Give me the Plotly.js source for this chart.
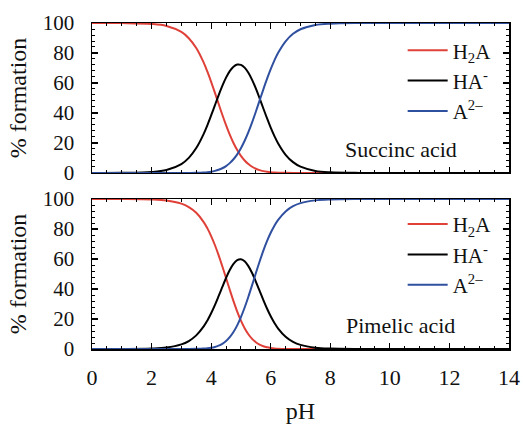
<!DOCTYPE html>
<html>
<head>
<meta charset="utf-8">
<script src="https://cdn.plot.ly/plotly-3.0.1.min.js"></script>
<style>
html,body{margin:0;padding:0;background:#fff;}
#chart{width:523px;height:425px;}
</style>
</head>
<body>
<div id="chart"></div>
<script>
// pH sample points (x values)
const pH = [0,1,2,2.5,3,3.25,3.5,3.75,3.875,4,4.125,4.25,4.375,4.5,4.625,4.75,4.875,5,5.125,5.25,5.375,5.5,5.625,5.75,5.875,6,6.125,6.25,6.5,6.75,7,7.5,8,9,10,12,14];

// Succinic acid, % formation
const succH2A = [100,99.94,99.37,98.04,94.05,89.87,83.27,73.56,67.51,60.77,53.56,46.13,38.80,31.85,25.52,19.98,15.28,11.42,8.34,5.96,4.15,2.82,1.88,1.22,0.77,0.48,0.29,0.18,0.06,0.02,0.01,0,0,0,0,0,0];
const succHA  = [0,0.06,0.63,1.96,5.93,10.08,16.61,26.10,31.94,38.35,45.06,51.76,58.05,63.55,67.92,70.89,72.30,72.07,70.21,66.82,62.11,56.35,49.92,43.17,36.51,30.24,24.59,19.67,12.12,7.20,4.18,1.36,0.44,0.04,0,0,0];
const succA   = [0,0,0,0,0.01,0.04,0.12,0.34,0.55,0.88,1.38,2.11,3.15,4.60,6.56,9.13,12.42,16.51,21.45,27.22,33.74,40.83,48.21,55.61,62.72,69.28,75.12,80.15,87.82,92.78,95.81,98.64,99.56,99.96,100,100,100];

// Pimelic acid, % formation
const pimH2A = [100,99.97,99.68,99.01,96.92,94.64,90.82,84.65,80.42,75.33,69.36,62.59,55.16,47.34,39.48,31.92,24.99,18.92,13.87,9.83,6.75,4.50,2.92,1.84,1.14,0.69,0.41,0.24,0.08,0.03,0.01,0,0,0,0,0,0];
const pimHA  = [0,0.03,0.32,0.99,3.07,5.32,9.08,15.05,19.07,23.82,29.25,35.19,41.36,47.34,52.64,56.75,59.25,59.84,58.47,55.28,50.64,45.00,38.89,32.77,27.00,21.83,17.38,13.65,8.18,4.77,2.74,0.89,0.28,0.03,0,0,0];
const pimA   = [0,0,0,0,0.01,0.03,0.10,0.30,0.51,0.85,1.38,2.22,3.48,5.31,7.88,11.33,15.77,21.23,27.66,34.88,42.61,50.50,58.19,65.39,71.86,77.48,82.20,86.11,91.74,95.20,97.25,99.11,99.72,99.97,100,100,100];

const speciesNames = ['H<sub>2</sub>A','HA<sup>-</sup>','A<sup>2\u2013</sup>'];
const colors = ['#df4038','#000000','#2f4f9f'];
const panelLabels = ['Succinc acid','Pimelic acid'];

const FONT = '"Liberation Serif", "Times New Roman", serif';

const topSeries = [succH2A, succHA, succA];
const botSeries = [pimH2A, pimHA, pimA];

const traces = [];
topSeries.forEach((ys,i)=>traces.push({x:pH,y:ys,type:'scatter',mode:'lines',line:{color:colors[i],width:2,shape:'spline',smoothing:1},name:speciesNames[i],xaxis:'x',yaxis:'y',legend:'legend'}));
botSeries.forEach((ys,i)=>traces.push({x:pH,y:ys,type:'scatter',mode:'lines',line:{color:colors[i],width:2,shape:'spline',smoothing:1},name:speciesNames[i],xaxis:'x2',yaxis:'y2',legend:'legend2'}));

function xax(showLabels, anchor){
  return {range:[0,14],dtick:2,tick0:0,ticks:'inside',ticklen:6,tickwidth:1.2,tickcolor:'#000',
    minor:{dtick:0.5,ticks:'inside',ticklen:3,tickwidth:1,tickcolor:'#000'},
    showline:true,linecolor:'#000',linewidth:1.5,mirror:'ticks',showgrid:false,zeroline:false,
    showticklabels:showLabels,anchor:anchor,tickfont:{family:FONT,size:22,color:'#111'},ticklabelstandoff:8};
}
function yax(domain, anchor){
  return {range:[0,100],domain:domain,dtick:20,tick0:0,ticks:'inside',ticklen:6,tickwidth:1.2,tickcolor:'#000',
    minor:{dtick:4,ticks:'inside',ticklen:3,tickwidth:1,tickcolor:'#000'},
    showline:true,linecolor:'#000',linewidth:1.5,mirror:'ticks',showgrid:false,zeroline:false,anchor:anchor,
    tickfont:{family:FONT,size:21,color:'#111'},ticklabelstandoff:12,
    title:{text:'% formation',font:{family:FONT,size:24,color:'#111'},standoff:9}};
}

const legendBase = {xanchor:'left',yanchor:'top',bgcolor:'rgba(0,0,0,0)',font:{family:FONT,size:21,color:'#111'},itemwidth:40};

const layout = {
  width:523,height:425,
  margin:{l:92,r:14,t:23,b:76},
  paper_bgcolor:'#fff',plot_bgcolor:'#fff',
  showlegend:true,
  xaxis:xax(false,'y'),
  yaxis:yax([0.54,1],'x'),
  xaxis2:Object.assign(xax(true,'y2'),{title:{text:'pH',font:{family:FONT,size:24,color:'#111'},standoff:13}}),
  yaxis2:yax([0,0.46],'x2'),
  legend:Object.assign({},legendBase,{x:0.745,y:0.978}),
  legend2:Object.assign({},legendBase,{x:0.745,y:0.445}),
  annotations:[
    {text:panelLabels[0],xref:'x domain',yref:'y domain',x:0.74,y:0.155,showarrow:false,xanchor:'center',yanchor:'middle',font:{family:FONT,size:22,color:'#111'}},
    {text:panelLabels[1],xref:'x2 domain',yref:'y2 domain',x:0.74,y:0.155,showarrow:false,xanchor:'center',yanchor:'middle',font:{family:FONT,size:22,color:'#111'}}
  ]
};

Plotly.newPlot('chart',traces,layout,{displayModeBar:false,staticPlot:true});
</script>
</body>
</html>
